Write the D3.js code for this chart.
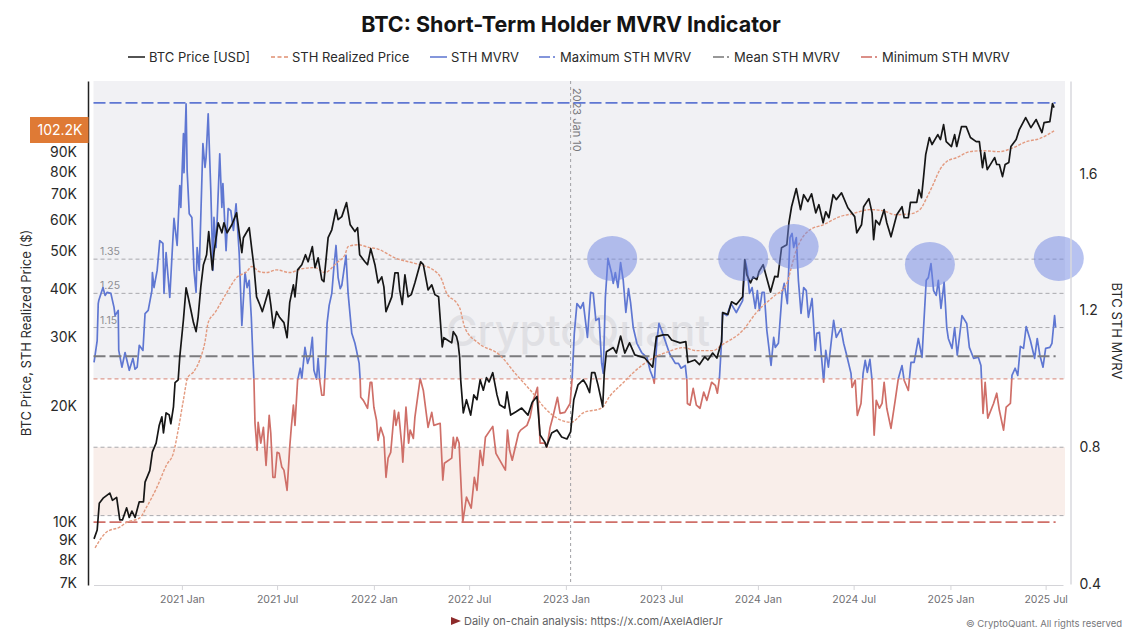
<!DOCTYPE html>
<html>
<head>
<meta charset="utf-8">
<script src="https://cdn.jsdelivr.net/npm/d3@7/dist/d3.min.js"></script>
<style>
html, body { margin: 0; padding: 0; background: #fff; }
svg { display: block; font-family: Inter, "Noto Sans", sans-serif; }
</style>
</head>
<body>
<svg id="chart" width="1142" height="644"></svg>
<script>
// all day values count from the first day on the x axis
var firstDay = new Date(2020, 6, 17);
var lastDay = new Date(2025, 7, 3);

// STH MVRV
var mvrvDays = [1,7,9,10,18,22,26,33,39,41,47,48,54,60,68,75,79,83,87,94,98,104,111,112,115,121,126,132,134,138,145,153,159,164,166,171,172,176,178,182,187,191,195,197,201,208,212,214,218,223,227,229,233,240,244,246,252,256,261,266,271,277,282,288,292,296,300,303,305,307,311,313,318,323,328,334,337,341,345,349,353,358,362,368,373,376,380,383,388,393,396,402,407,412,416,419,424,427,430,434,438,441,444,448,453,457,461,465,469,472,480,484,491,497,500,505,507,508,513,521,526,529,533,538,541,546,552,556,560,565,572,575,580,586,588,594,599,602,608,611,621,627,636,643,647,659,664,667,681,684,687,691,695,702,709,718,724,729,735,740,745,759,765,783,787,791,796,808,812,824,830,836,844,849,858,862,868,874,882,887,896,906,910,914,919,926,931,939,945,950,955,961,966,969,973,978,985,988,992,997,1002,1007,1012,1017,1021,1026,1033,1042,1052,1058,1064,1066,1071,1075,1082,1095,1106,1112,1117,1125,1128,1129,1134,1140,1146,1153,1160,1166,1175,1182,1186,1190,1194,1196,1204,1212,1222,1234,1239,1243,1247,1252,1258,1262,1266,1271,1275,1280,1288,1293,1296,1302,1309,1313,1319,1324,1328,1331,1336,1340,1345,1350,1355,1359,1366,1372,1375,1380,1388,1392,1397,1407,1412,1421,1426,1431,1440,1442,1448,1452,1459,1463,1467,1471,1476,1480,1484,1488,1494,1499,1503,1508,1516,1524,1530,1537,1541,1549,1554,1560,1568,1575,1578,1583,1587,1592,1597,1602,1606,1611,1617,1622,1625,1632,1637,1642,1651,1660,1665,1673,1682,1687,1691,1695,1700,1711,1717,1722,1730,1735,1743,1746,1752,1757,1762,1768,1773,1781,1789,1794,1799,1805,1810,1818,1822,1827,1829];
var mvrvValues = [1.048,1.112,1.220,1.229,1.267,1.244,1.253,1.250,1.209,1.185,1.200,1.083,1.034,1.077,1.025,1.060,1.028,1.034,1.098,1.083,1.191,1.200,1.258,1.311,1.267,1.317,1.404,1.396,1.250,1.369,1.238,1.469,1.390,1.565,1.501,1.717,1.603,1.804,1.609,1.483,1.472,1.317,1.253,1.384,1.317,1.688,1.618,1.647,1.775,1.550,1.317,1.472,1.384,1.658,1.501,1.571,1.375,1.498,1.492,1.434,1.512,1.366,1.156,1.311,1.267,1.288,1.180,1.063,0.996,0.870,0.791,0.873,0.812,0.858,0.747,0.893,0.841,0.712,0.712,0.785,0.782,0.742,0.733,0.674,0.800,0.858,0.923,0.864,0.996,1.031,1.001,1.092,1.045,1.069,1.121,1.025,0.999,1.060,0.996,0.952,0.952,1.045,1.162,1.215,1.250,1.326,1.390,1.296,1.264,1.273,1.361,1.250,1.133,1.104,1.083,1.045,0.996,0.946,0.937,0.914,0.990,0.990,0.917,0.879,0.820,0.858,0.829,0.712,0.768,0.785,0.908,0.864,0.902,0.806,0.756,0.917,0.812,0.850,0.826,0.888,1.001,0.966,0.858,0.902,0.864,0.870,0.704,0.753,0.768,0.829,0.797,0.829,0.812,0.581,0.654,0.622,0.712,0.674,0.791,0.747,0.829,0.861,0.782,0.733,0.850,0.791,0.762,0.841,0.850,0.864,0.888,0.937,0.975,0.812,0.812,0.800,0.858,0.893,0.946,0.899,0.902,0.928,1.004,1.133,1.220,1.206,1.223,1.121,1.253,1.250,1.171,1.177,1.045,1.016,1.238,1.352,1.308,1.279,1.311,1.267,1.340,1.288,1.194,1.264,1.223,1.150,1.104,1.077,1.063,1.025,1.001,0.987,1.112,1.162,1.133,1.074,1.045,1.045,1.031,1.039,0.996,0.928,0.923,0.972,0.923,0.914,0.961,0.937,0.990,0.981,0.958,1.004,1.112,1.194,1.185,1.220,1.194,1.229,1.346,1.317,1.250,1.267,1.206,1.258,1.200,1.253,1.253,1.142,1.039,1.121,1.092,1.104,1.250,1.279,1.220,1.413,1.425,1.384,1.413,1.288,1.191,1.267,1.258,1.180,1.235,1.083,1.133,1.136,0.990,1.083,1.034,1.171,1.121,1.147,1.104,1.074,1.016,0.975,0.996,0.893,0.928,1.016,1.054,1.019,1.057,0.996,0.835,0.937,0.914,0.928,0.990,0.914,0.855,0.937,1.001,1.039,0.996,0.966,1.048,1.048,1.118,1.063,1.150,1.288,1.296,1.337,1.258,1.244,1.288,1.206,1.282,1.150,1.118,1.089,1.150,1.069,1.185,1.162,1.092,1.060,1.063,1.039,0.899,0.990,0.885,0.928,0.958,0.908,0.850,0.917,0.928,1.010,1.031,1.010,1.095,1.089,1.153,1.112,1.060,1.118,1.069,1.034,1.089,1.092,1.104,1.185,1.150];

// BTC price in thousands of USD
var priceDays = [1,7,11,19,31,36,44,50,55,63,68,73,79,87,95,98,107,112,119,125,130,133,138,144,147,152,155,161,164,171,176,180,185,190,195,199,204,209,215,219,226,229,237,244,248,254,263,272,282,285,296,301,305,310,316,321,326,333,337,342,348,354,362,368,373,380,383,388,396,403,408,416,421,427,434,438,446,453,461,465,472,481,488,497,502,506,516,521,527,535,541,548,552,556,567,573,579,582,587,592,598,604,611,622,627,636,643,649,656,663,666,681,684,690,693,696,698,703,709,717,723,729,735,741,747,752,759,767,772,782,786,793,804,814,826,834,843,849,858,861,871,881,890,900,907,913,921,931,937,943,947,953,959,968,971,975,988,994,1002,1010,1019,1029,1048,1063,1070,1083,1092,1099,1115,1126,1130,1143,1152,1162,1168,1177,1185,1194,1196,1206,1213,1222,1234,1238,1242,1249,1254,1261,1265,1273,1279,1287,1295,1301,1308,1318,1322,1327,1336,1344,1350,1358,1365,1373,1379,1387,1392,1398,1406,1412,1422,1434,1447,1451,1460,1464,1474,1480,1483,1487,1494,1503,1508,1516,1527,1537,1541,1549,1553,1565,1569,1574,1578,1582,1589,1594,1605,1610,1616,1621,1631,1637,1641,1650,1659,1667,1678,1684,1690,1694,1699,1713,1717,1722,1728,1733,1740,1744,1754,1760,1772,1782,1792,1803,1807,1818,1823,1826];
var priceValues = [9.07,9.56,11.2,11.57,11.9,11.4,11.6,10.15,10.15,10.9,10.3,10.7,10.3,11.3,11.3,12.7,13.6,15.2,16,17.8,18.7,17,19.15,18.9,17.95,19.85,22.9,23.3,26.7,33.3,40.2,38,35.3,32.7,31,33.9,40.4,46.1,48.9,56.1,44.7,49.5,59.1,55.7,59.1,55.7,58.4,62.7,49.5,54.1,57.4,50.4,45.6,38.1,36.4,34.9,36.8,39.7,36.4,31.7,34.9,33.7,32.7,29.9,36.8,40.9,38.1,44.7,46.1,48.9,46.9,51.3,45.3,48,42.2,41.7,54.1,56.7,63.9,60.2,61.3,66.6,58.4,56.1,57.4,48.9,46.9,46.1,50.7,46.1,41.4,42.9,40.4,34.9,38.1,43.9,43.9,39.7,36.4,43.4,38.1,38.6,41.4,46.9,46.1,39.7,40.9,38.6,38.1,28.3,29.9,29,31,30.1,29,26.7,23.3,19.15,20.7,18.9,21.3,20.7,23.3,21.9,23.6,23,24.3,21.3,20.1,19.7,21.7,18.9,19.3,19.7,18.9,20.4,21.1,16.8,16.1,15.65,17,17.3,16.6,16.4,17.1,20.7,22.6,23.3,22.6,21.6,24.3,24.3,22.6,19.85,24.3,27.5,28.2,27.3,30.2,27.3,29,27,26.5,25.1,30.1,30.4,30.4,29.5,29,29.2,25.8,26.2,25.5,26.7,26.2,27.3,26.5,29.2,34.7,34.3,37,36.4,38.1,47.5,43.4,41.4,42.9,42.2,44.2,46.1,43,39.2,43,42.9,51,51.9,59.1,65,72.4,63.9,69.8,67,70.2,62.7,65.8,59.1,63.1,60.9,69.8,67.8,70.6,64.6,61.3,55.7,58.4,65,68.2,62.7,53.5,60,58.4,63.9,59.1,54.4,62,65,60.9,60.9,66.7,66.7,71.9,68.6,77.7,88.5,98,94,99.7,96.8,105.8,95.6,92.9,99.7,92.9,104.5,104.5,98,95.6,95.6,82,89.6,81,87,83.5,83.5,77.7,83.5,84.5,92.9,96.8,102.7,110.3,103.9,109,100.9,107,107.7,119.8,117];

// STH realized price in thousands of USD
var realizedDays = [3,12,25,50,63,88,101,120,139,152,161,171,179,190,202,212,218,231,253,272,291,301,316,329,348,373,396,421,440,462,478,484,503,525,538,573,620,646,662,671,690,696,706,731,772,804,833,858,880,908,931,966,981,1007,1026,1057,1092,1121,1146,1178,1194,1235,1260,1292,1317,1327,1333,1343,1362,1387,1419,1441,1476,1501,1524,1552,1571,1585,1596,1609,1622,1641,1666,1691,1722,1748,1773,1798,1826];
var realizedValues = [8.6,9,9.45,9.73,10,10.27,10.96,12.27,14.07,15.1,17.3,20.7,23.6,24.4,26.2,29.2,32.7,34.7,39,42.7,44.2,45.6,44.2,44,44.7,44,45,45.3,44,46.6,48.9,51.3,51.9,51,50.7,48,46.1,44.7,42.2,39,36.8,35.7,31.7,29,27,24,21.7,19.7,18.6,18.1,19.15,19.7,21.1,22.9,24.3,26.2,27.5,28.2,27.7,27.7,28.6,31.3,34.7,38.1,40.9,45.6,48.9,52.8,56.7,58.4,61.3,62.3,63.9,63.5,62,62.3,63.9,69,74.1,81,85,87,90.1,90.6,90.1,92.2,95.6,97.3,101.9];

// reference levels on the MVRV axis
var maxMvrv = 1.807, meanMvrv = 1.066, minMvrv = 0.581;
var thinLevels = [1.35, 1.25, 1.15, 0.8, 0.6];
var labelledLevels = [1.35, 1.25, 1.15];
var splitLevel = 1.0;

// highlighted tops
var circleDays = [986, 1235, 1331, 1590, 1835];
var circleValues = [1.352, 1.352, 1.387, 1.334, 1.352];

// axis labels
var priceTicks = [7, 8, 9, 10, 20, 30, 40, 50, 60, 70, 80, 90];
var mvrvTicks = [0.4, 0.8, 1.2, 1.6];
var timeTicks = [[2021,0],[2021,6],[2022,0],[2022,6],[2023,0],[2023,6],[2024,0],[2024,6],[2025,0],[2025,6]];
var monthNames = ["Jan", "Jul"];

var legendNames = ["BTC Price [USD]", "STH Realized Price", "STH MVRV", "Maximum STH MVRV", "Mean STH MVRV", "Minimum STH MVRV"];
var legendColors = ["#1a1a1a", "#e08f70", "#5b73cf", "#5b73cf", "#777777", "#cf6b62"];
var legendDashes = [null, "4,2.5", null, "11,3,2,3", "11,3,2,3", "11,3,2,3"];
var legendLineX = [128, 271, 430, 539, 713, 861];

var blue = "#5f77d2", red = "#cf6f68", black = "#161616", orange = "#e39a7f";

var svg = d3.select("#chart");
var plotLeft = 93.5, plotRight = 1063, plotTop = 81, plotBottom = 585;

function dayDate(d) { return d3.timeDay.offset(firstDay, d); }
function zip(days, values) { return days.map(function (d, i) { return [d, values[i]]; }); }

var x = d3.scaleTime().domain([firstDay, lastDay]).range([plotLeft, plotRight]);
var yPrice = d3.scaleLog().domain([6.9, 137]).range([plotBottom, plotTop]);
var yMvrv = d3.scaleLinear().domain([0.4, 1.871]).range([584, 81]);

// background bands
var bandRight = 1065;
svg.append("rect").attr("x", plotLeft).attr("y", plotTop).attr("width", bandRight - plotLeft)
    .attr("height", yMvrv(splitLevel) - plotTop).attr("fill", "#f1f1f4");
svg.append("rect").attr("x", plotLeft).attr("y", yMvrv(0.8)).attr("width", bandRight - plotLeft)
    .attr("height", yMvrv(0.6) - yMvrv(0.8)).attr("fill", "#f9eeea");

// watermark
svg.append("text").attr("x", 578).attr("y", 346).attr("text-anchor", "middle").attr("font-weight", 500)
    .attr("font-size", 43).attr("fill", "#dcdce0").attr("fill-opacity", 0.8).text("CryptoQuant");

// thin levels
thinLevels.forEach(function (v) {
    svg.append("line").attr("x1", plotLeft).attr("x2", bandRight).attr("y1", yMvrv(v)).attr("y2", yMvrv(v))
        .attr("stroke", "#a9a9ad").attr("stroke-width", 1).attr("stroke-dasharray", "4,3");
});
svg.append("line").attr("x1", plotLeft).attr("x2", bandRight).attr("y1", yMvrv(splitLevel)).attr("y2", yMvrv(splitLevel))
    .attr("stroke", "#dd9a8e").attr("stroke-width", 1.2).attr("stroke-dasharray", "4,3");
labelledLevels.forEach(function (v) {
    svg.append("text").attr("x", 100).attr("y", yMvrv(v) - 4).attr("font-size", 10.5).attr("fill", "#8e8e92").text(v);
});

// 2023 Jan 10 marker
var markDate = new Date(2023, 0, 10);
svg.append("line").attr("x1", x(markDate)).attr("x2", x(markDate)).attr("y1", plotTop).attr("y2", plotBottom)
    .attr("stroke", "#a0a0a4").attr("stroke-dasharray", "3,3");
svg.append("text").attr("transform", "translate(" + (x(markDate) + 2.5) + ",88) rotate(90)")
    .attr("font-size", 11).attr("fill", "#77777b").text("2023 Jan 10");

// MVRV line in two colours, split at 1.0
var defs = svg.append("defs");
defs.append("clipPath").attr("id", "above").append("rect")
    .attr("x", 0).attr("y", 0).attr("width", 1142).attr("height", yMvrv(splitLevel));
defs.append("clipPath").attr("id", "below").append("rect")
    .attr("x", 0).attr("y", yMvrv(splitLevel)).attr("width", 1142).attr("height", 644);

var mvrvLine = d3.line().x(function (d) { return x(dayDate(d[0])); }).y(function (d) { return yMvrv(d[1]); });
var priceLine = d3.line().x(function (d) { return x(dayDate(d[0])); }).y(function (d) { return yPrice(d[1]); });
var mvrvData = zip(mvrvDays, mvrvValues);

[["above", blue], ["below", red]].forEach(function (p) {
    svg.append("path").datum(mvrvData).attr("clip-path", "url(#" + p[0] + ")").attr("d", mvrvLine)
        .attr("fill", "none").attr("stroke", p[1]).attr("stroke-width", 1.7).attr("stroke-linejoin", "round");
});

// max, mean and min lines stop where the data stops
var dataEnd = x(dayDate(mvrvDays[mvrvDays.length - 1]));
[[maxMvrv, blue, 1.8], [meanMvrv, "#7b7b7e", 2], [minMvrv, red, 1.8]].forEach(function (p) {
    svg.append("line").attr("x1", plotLeft).attr("x2", dataEnd).attr("y1", yMvrv(p[0])).attr("y2", yMvrv(p[0]))
        .attr("stroke", p[1]).attr("stroke-width", p[2]).attr("stroke-dasharray", "12,4");
});

// price lines
svg.append("path").datum(zip(realizedDays, realizedValues)).attr("d", priceLine.curve(d3.curveMonotoneX))
    .attr("fill", "none").attr("stroke", orange).attr("stroke-width", 1.4).attr("stroke-dasharray", "3,1.5");
svg.append("path").datum(zip(priceDays, priceValues)).attr("d", priceLine.curve(d3.curveLinear))
    .attr("fill", "none").attr("stroke", black).attr("stroke-width", 1.7).attr("stroke-linejoin", "round");

// circles over the tops
circleDays.forEach(function (d, i) {
    svg.append("ellipse").attr("cx", x(dayDate(d))).attr("cy", yMvrv(circleValues[i]))
        .attr("rx", 25).attr("ry", 22.5).attr("fill", "#6f86e2").attr("fill-opacity", 0.5);
});

// left axis
var axisLeft = d3.axisLeft(yPrice).tickValues(priceTicks).tickSize(0).tickPadding(11)
    .tickFormat(function (d) { return d + "K"; });
var gl = svg.append("g").attr("transform", "translate(88,0)").call(axisLeft);
gl.select(".domain").attr("stroke", "#222").attr("stroke-width", 1.5);
gl.selectAll("text").attr("font-size", 14).attr("font-family", "Inter").attr("fill", "#2a2a2a");

// current price tag
svg.append("rect").attr("x", 30).attr("y", 117).attr("width", 58.5).attr("height", 26).attr("fill", "#df7a35");
svg.append("text").attr("x", 60).attr("y", 135).attr("text-anchor", "middle").attr("font-size", 14)
    .attr("fill", "#fff").text("102.2K");

// right axis
var axisRight = d3.axisRight(yMvrv).tickValues(mvrvTicks).tickSize(0).tickPadding(9).tickFormat(d3.format(".1f"));
var gr = svg.append("g").attr("transform", "translate(1070.5,0)").call(axisRight);
gr.select(".domain").attr("stroke", "#d9d9de").attr("stroke-width", 1.5);
gr.selectAll("text").attr("font-size", 14).attr("font-family", "Inter").attr("fill", "#2a2a2a");

// time axis
var axisBottom = d3.axisBottom(x).tickValues(timeTicks.map(function (t) { return new Date(t[0], t[1], 1); }))
    .tickSize(5).tickPadding(6).tickSizeOuter(0)
    .tickFormat(function (d) { return d.getFullYear() + " " + monthNames[d.getMonth() / 6]; });
var gb = svg.append("g").attr("transform", "translate(0," + plotBottom + ")").call(axisBottom);
gb.select(".domain").attr("stroke", "#d4d4d8");
gb.selectAll(".tick line").attr("stroke", "#d4d4d8");
gb.selectAll("text").attr("font-size", 10.5).attr("font-family", "Inter").attr("fill", "#6f6f73");

// axis titles
svg.append("text").attr("transform", "translate(31,333) rotate(-90)").attr("text-anchor", "middle")
    .attr("font-size", 13).attr("fill", "#2a2a2a").text("BTC Price, STH Realized Price ($)");
svg.append("text").attr("transform", "translate(1112,331) rotate(90)").attr("text-anchor", "middle")
    .attr("font-size", 13).attr("fill", "#2a2a2a").text("BTC STH MVRV");

// title
svg.append("text").attr("x", 571).attr("y", 32).attr("text-anchor", "middle").attr("font-size", 21.5)
    .attr("font-weight", 700).attr("fill", "#141414").text("BTC: Short-Term Holder MVRV Indicator");

// legend
legendNames.forEach(function (name, i) {
    var lx = legendLineX[i];
    svg.append("line").attr("x1", lx).attr("x2", lx + 17).attr("y1", 57).attr("y2", 57)
        .attr("stroke", legendColors[i]).attr("stroke-width", 1.5)
        .attr("stroke-dasharray", legendDashes[i]);
    svg.append("text").attr("x", lx + 21).attr("y", 62).attr("font-size", 13).attr("fill", "#2a2a2a").text(name);
});

// footer
svg.append("path").attr("d", d3.line()([[451, 617], [461, 621], [451, 625]]) + "Z").attr("fill", "#8e2b2b");
svg.append("text").attr("x", 464).attr("y", 625).attr("font-size", 11).attr("fill", "#5f5f63")
    .text("Daily on-chain analysis: https://x.com/AxelAdlerJr");
svg.append("text").attr("x", 1122).attr("y", 627).attr("text-anchor", "end").attr("font-size", 9.5)
    .attr("fill", "#77777b").text("© CryptoQuant. All rights reserved");
</script>
</body>
</html>
